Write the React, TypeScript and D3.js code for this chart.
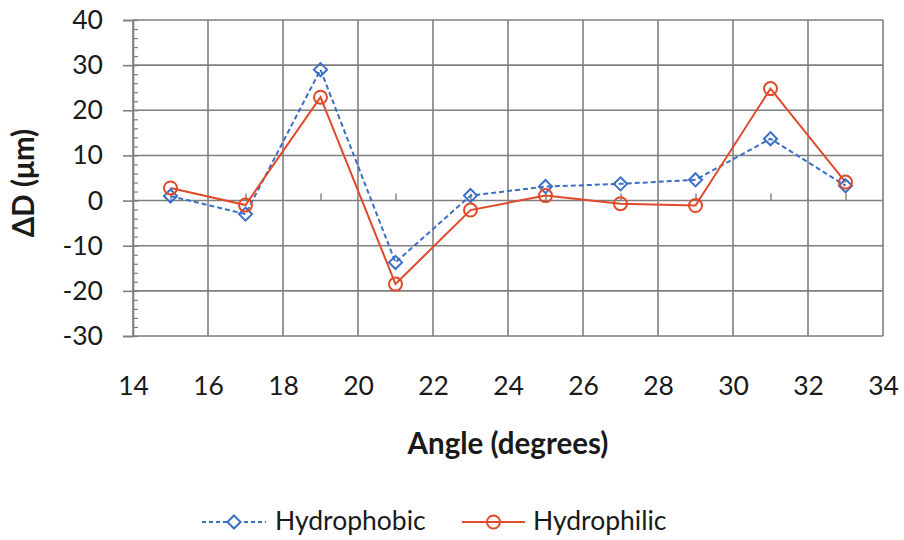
import React, { useEffect, useRef } from 'react';
import * as d3 from 'd3';

const angles = [15, 17, 19, 21, 23, 25, 27, 29, 31, 33];
const hydrophobic = [1.0, -3.0, 29.0, -13.7, 1.1, 3.1, 3.7, 4.6, 13.7, 3.3];
const hydrophilic = [2.8, -1.0, 22.9, -18.5, -2.1, 1.1, -0.7, -1.1, 24.8, 4.1];
const xTicks = [14, 16, 18, 20, 22, 24, 26, 28, 30, 32, 34];
const yTicks = [-30, -20, -10, 0, 10, 20, 30, 40];
const yMinorTicks = d3.range(-30, 41, 2);
const seriesNames = ['Hydrophobic', 'Hydrophilic'];

const BLUE = '#3b6fc6';
const RED = '#e04a2b';
const GRID = '#7f7f7f';
const FONT = 'Lato, "Open Sans", sans-serif';

const App: React.FC = () => {
  const svgRef = useRef<SVGSVGElement | null>(null);

  useEffect(() => {
    const svg = d3.select(svgRef.current);
    svg.selectAll('*').remove();

    const left = 133;
    const right = 883;
    const top = 20;
    const bottom = 336;

    const x = d3.scaleLinear().domain([14, 34]).range([left, right]);
    const y = d3.scaleLinear().domain([-30, 40]).range([bottom, top]);
    const plain = (d: d3.NumberValue) => String(d);

    // gridlines
    const grid = svg.append('g').attr('stroke', GRID).attr('stroke-width', 1.6);
    grid
      .selectAll('line.h')
      .data(yTicks)
      .enter()
      .append('line')
      .attr('x1', left)
      .attr('x2', right)
      .attr('y1', d => y(d))
      .attr('y2', d => y(d));
    grid
      .selectAll('line.v')
      .data(xTicks)
      .enter()
      .append('line')
      .attr('x1', d => x(d))
      .attr('x2', d => x(d))
      .attr('y1', top)
      .attr('y2', bottom);

    // y axis with major ticks outward and labels
    const yAxis = svg
      .append('g')
      .attr('transform', `translate(${left},0)`)
      .call(d3.axisLeft(y).tickValues(yTicks).tickSize(10).tickPadding(20).tickFormat(plain));
    yAxis.select('.domain').attr('stroke', GRID).attr('stroke-width', 1.6);
    yAxis.selectAll('.tick line').attr('stroke', GRID).attr('stroke-width', 1.6);
    yAxis
      .selectAll('.tick text')
      .attr('font-family', FONT)
      .attr('font-size', 26.5)
      .attr('fill', '#1a1a1a');

    // y minor ticks inward
    const yMinor = svg
      .append('g')
      .attr('transform', `translate(${left},0)`)
      .call(d3.axisLeft(y).tickValues(yMinorTicks).tickSize(-5).tickFormat(() => ''));
    yMinor.select('.domain').remove();
    yMinor.selectAll('.tick line').attr('stroke', GRID).attr('stroke-width', 1.2);

    // x axis labels
    const xAxis = svg
      .append('g')
      .attr('transform', `translate(0,${bottom})`)
      .call(d3.axisBottom(x).tickValues(xTicks).tickSize(0).tickPadding(40).tickFormat(plain));
    xAxis.select('.domain').remove();
    xAxis
      .selectAll('.tick text')
      .attr('font-family', FONT)
      .attr('font-size', 26.5)
      .attr('fill', '#1a1a1a');

    // x minor ticks at the data angles, on the zero line
    const xMinor = svg
      .append('g')
      .attr('transform', `translate(0,${y(0)})`)
      .call(d3.axisTop(x).tickValues(angles).tickSize(7).tickFormat(() => ''));
    xMinor.select('.domain').remove();
    xMinor.selectAll('.tick line').attr('stroke', GRID).attr('stroke-width', 1.4);

    // series
    const line = d3
      .line<number>()
      .x((_, i) => x(angles[i]))
      .y(d => y(d));

    svg
      .append('path')
      .datum(hydrophobic)
      .attr('fill', 'none')
      .attr('stroke', BLUE)
      .attr('stroke-width', 2)
      .attr('stroke-dasharray', '5,3')
      .attr('d', line);

    svg
      .append('path')
      .datum(hydrophilic)
      .attr('fill', 'none')
      .attr('stroke', RED)
      .attr('stroke-width', 2)
      .attr('d', line);

    const diamond = d3.symbol().type(d3.symbolDiamond2).size(110);

    svg
      .selectAll('path.diamond')
      .data(hydrophobic)
      .enter()
      .append('path')
      .attr('class', 'diamond')
      .attr('d', diamond)
      .attr('transform', (d, i) => `translate(${x(angles[i])},${y(d)})`)
      .attr('fill', 'none')
      .attr('stroke', BLUE)
      .attr('stroke-width', 2);

    svg
      .selectAll('circle.dot')
      .data(hydrophilic)
      .enter()
      .append('circle')
      .attr('class', 'dot')
      .attr('cx', (_, i) => x(angles[i]))
      .attr('cy', d => y(d))
      .attr('r', 6.5)
      .attr('fill', 'none')
      .attr('stroke', RED)
      .attr('stroke-width', 2);

    // axis titles
    svg
      .append('text')
      .attr('x', (left + right) / 2)
      .attr('y', 454)
      .attr('text-anchor', 'middle')
      .attr('font-family', FONT)
      .attr('font-weight', 'bold')
      .attr('font-size', 29.5)
      .attr('fill', '#1a1a1a')
      .text('Angle (degrees)');

    svg
      .append('text')
      .attr('transform', `translate(34,183) rotate(-90)`)
      .attr('text-anchor', 'middle')
      .attr('font-family', FONT)
      .attr('font-weight', 'bold')
      .attr('font-size', 29.5)
      .attr('fill', '#1a1a1a')
      .text('ΔD (μm)');

    // legend
    const legendY = 522;
    const legend = [
      { name: seriesNames[0], color: BLUE, dash: '4,3', x0: 202, x1: 266, tx: 275, marker: 'diamond' },
      { name: seriesNames[1], color: RED, dash: null, x0: 462, x1: 525, tx: 533, marker: 'circle' },
    ];
    legend.forEach(item => {
      const g = svg.append('g');
      g.append('line')
        .attr('x1', item.x0)
        .attr('x2', item.x1)
        .attr('y1', legendY)
        .attr('y2', legendY)
        .attr('stroke', item.color)
        .attr('stroke-width', 2)
        .attr('stroke-dasharray', item.dash);
      const cx = (item.x0 + item.x1) / 2;
      if (item.marker === 'diamond') {
        g.append('path')
          .attr('d', diamond)
          .attr('transform', `translate(${cx},${legendY})`)
          .attr('fill', 'white')
          .attr('stroke', item.color)
          .attr('stroke-width', 2);
      } else {
        g.append('circle')
          .attr('cx', cx)
          .attr('cy', legendY)
          .attr('r', 6.5)
          .attr('fill', 'none')
          .attr('stroke', item.color)
          .attr('stroke-width', 2);
      }
      g.append('text')
        .attr('x', item.tx)
        .attr('y', 530)
        .attr('font-family', FONT)
        .attr('font-size', 26.5)
        .attr('fill', '#1a1a1a')
        .text(item.name);
    });
  }, []);

  return (
    <svg
      ref={svgRef}
      width={904}
      height={540}
      style={{ position: 'absolute', left: 0, top: 0, background: 'white' }}
    ></svg>
  );
};

export default App;
